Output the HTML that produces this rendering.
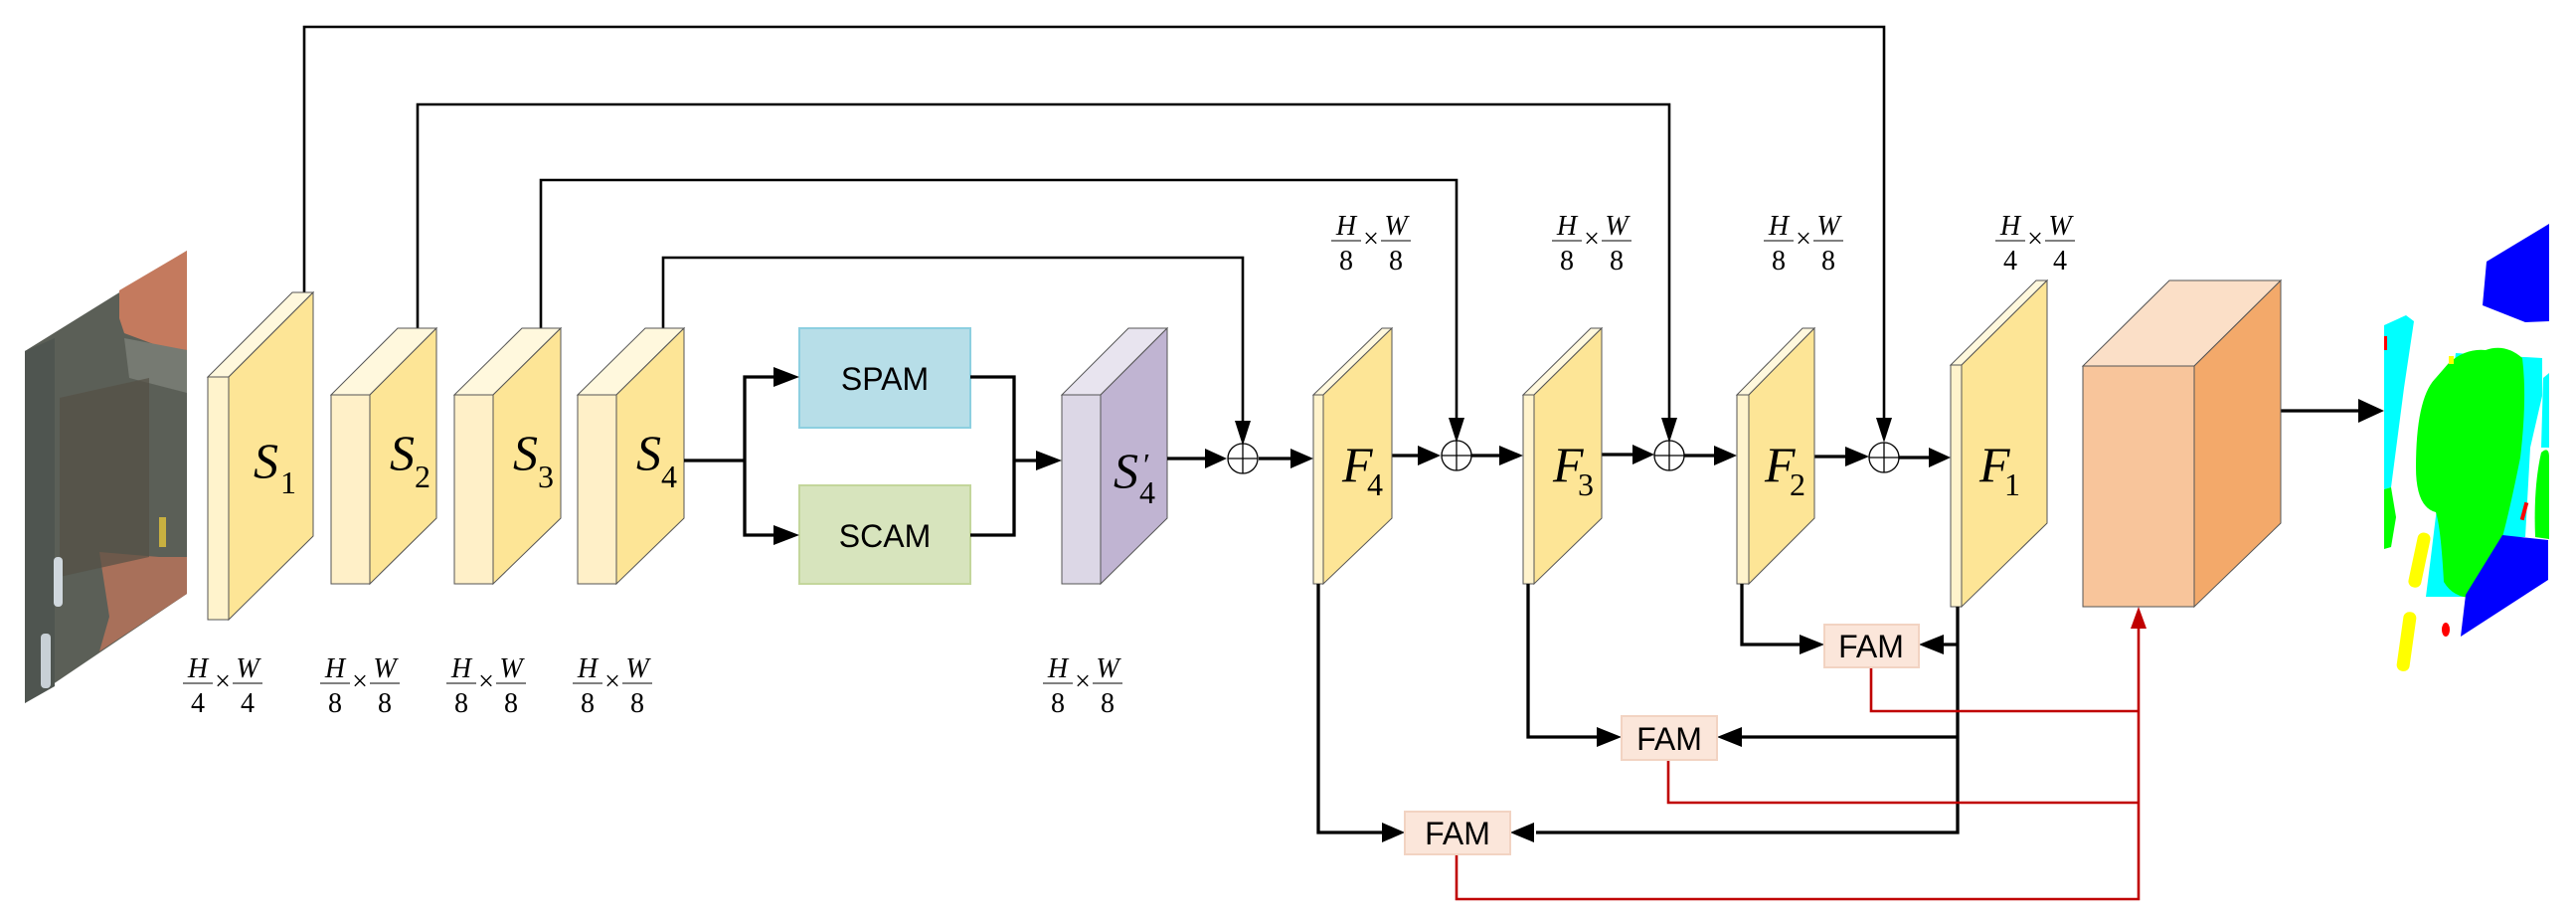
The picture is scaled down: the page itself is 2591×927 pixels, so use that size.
<!DOCTYPE html>
<html><head><meta charset="utf-8"><style>
html,body{margin:0;padding:0;background:#fff;overflow:hidden;}
svg{display:block;}
.fi{font-family:"Liberation Serif",serif;font-style:italic;font-size:28px;}
.fn{font-family:"Liberation Serif",serif;font-size:28px;}
.lb{font-family:"Liberation Sans",sans-serif;font-size:32px;}
.big{font-family:"Liberation Serif",serif;font-style:italic;font-size:50px;}
.sub{font-family:"Liberation Serif",serif;font-size:32px;}
</style></head><body>
<svg width="2591" height="927" viewBox="0 0 2591 927" xmlns="http://www.w3.org/2000/svg">
<defs>
<g id="fr">
<text x="-25" y="681" class="fi" text-anchor="middle">H</text>
<line x1="-40" y1="687" x2="-10" y2="687" stroke="#000" stroke-width="1"/>
<text x="0" y="694" class="fn" text-anchor="middle" font-size="20">×</text>
<text x="25" y="681" class="fi" text-anchor="middle">W</text>
<line x1="10" y1="687" x2="40" y2="687" stroke="#000" stroke-width="1"/>
</g>
</defs>
<!-- input image -->
<polygon points="25,353 188,252 188,597 25,707" fill="#5b5f57"/>
<polygon points="25,353 55,340 55,690 25,707" fill="#4f5550"/>
<polygon points="120,292 188,252 188,352 160,348 125,335 120,320" fill="#c47a5e"/>
<polygon points="125,340 188,352 188,395 130,380" fill="#767a72"/>
<polygon points="100,555 160,560 188,560 188,597 100,655 110,620" fill="#a8705a"/>
<polygon points="60,400 150,380 150,560 60,580" fill="#545044" opacity="0.7"/>
<rect x="54" y="560" width="9" height="50" rx="4" fill="#d0d8de"/>
<rect x="41" y="637" width="10" height="55" rx="4" fill="#c8d0d6"/>
<rect x="160" y="520" width="7" height="30" fill="#c8b040"/>

<!-- skip lines -->
<g fill="none" stroke="#000" stroke-width="2.6">
<polyline points="306,294 306,27 1895,27 1895,425"/>
<polyline points="420,330 420,105 1679,105 1679,425"/>
<polyline points="544,330 544,181 1465,181 1465,425"/>
<polyline points="667,330 667,259 1250,259 1250,428"/>
</g>
<g fill="#000">
<polygon points="1887,420 1903,420 1895,445"/>
<polygon points="1671,420 1687,420 1679,445"/>
<polygon points="1457,420 1473,420 1465,445"/>
<polygon points="1242,423 1258,423 1250,448"/>
</g>

<!-- slabs S -->
<g stroke="#555" stroke-width="1">
<polygon points="209,379 230,379 315,294 294,294" fill="#fff8dd"/>
<rect x="209" y="379" width="21" height="244" fill="#fff3cc"/>
<polygon points="230,379 315,294 315,539 230,623" fill="#fde596"/>
<polygon points="333,397 372,397 439,330 400,330" fill="#fff8dd"/>
<rect x="333" y="397" width="39" height="190" fill="#fff0c8"/>
<polygon points="372,397 439,330 439,521 372,587" fill="#fde596"/>
<polygon points="457,397 496,397 564,330 525,330" fill="#fff8dd"/>
<rect x="457" y="397" width="39" height="190" fill="#fff0c8"/>
<polygon points="496,397 564,330 564,521 496,587" fill="#fde596"/>
<polygon points="581,397 620,397 688,330 649,330" fill="#fff8dd"/>
<rect x="581" y="397" width="39" height="190" fill="#fff0c8"/>
<polygon points="620,397 688,330 688,521 620,587" fill="#fde596"/>
<polygon points="1068,397 1107,397 1174,330 1135,330" fill="#e8e4ef"/>
<rect x="1068" y="397" width="39" height="190" fill="#dcd7e6"/>
<polygon points="1107,397 1174,330 1174,521 1107,587" fill="#c0b4d2"/>
</g>
<text x="255" y="480" class="big">S</text><text x="282" y="496" class="sub">1</text>
<text x="392" y="472" class="big">S</text><text x="417" y="490" class="sub">2</text>
<text x="516" y="472" class="big">S</text><text x="541" y="490" class="sub">3</text>
<text x="640" y="472" class="big">S</text><text x="665" y="490" class="sub">4</text>
<text x="1120" y="490" class="big">S</text><text x="1150" y="478" class="sub">′</text><text x="1146" y="506" class="sub">4</text>

<!-- fractions -->
<g transform="translate(224,0)"><use href="#fr"/><text x="-25" y="716" class="fn" text-anchor="middle">4</text><text x="25" y="716" class="fn" text-anchor="middle">4</text></g>
<g transform="translate(362,0)"><use href="#fr"/><text x="-25" y="716" class="fn" text-anchor="middle">8</text><text x="25" y="716" class="fn" text-anchor="middle">8</text></g>
<g transform="translate(489,0)"><use href="#fr"/><text x="-25" y="716" class="fn" text-anchor="middle">8</text><text x="25" y="716" class="fn" text-anchor="middle">8</text></g>
<g transform="translate(616,0)"><use href="#fr"/><text x="-25" y="716" class="fn" text-anchor="middle">8</text><text x="25" y="716" class="fn" text-anchor="middle">8</text></g>
<g transform="translate(1089,0)"><use href="#fr"/><text x="-25" y="716" class="fn" text-anchor="middle">8</text><text x="25" y="716" class="fn" text-anchor="middle">8</text></g>
<g transform="translate(1379,-445)"><use href="#fr"/><text x="-25" y="716" class="fn" text-anchor="middle">8</text><text x="25" y="716" class="fn" text-anchor="middle">8</text></g>
<g transform="translate(1601,-445)"><use href="#fr"/><text x="-25" y="716" class="fn" text-anchor="middle">8</text><text x="25" y="716" class="fn" text-anchor="middle">8</text></g>
<g transform="translate(1814,-445)"><use href="#fr"/><text x="-25" y="716" class="fn" text-anchor="middle">8</text><text x="25" y="716" class="fn" text-anchor="middle">8</text></g>
<g transform="translate(2047,-445)"><use href="#fr"/><text x="-25" y="716" class="fn" text-anchor="middle">4</text><text x="25" y="716" class="fn" text-anchor="middle">4</text></g>

<!-- SPAM / SCAM -->
<rect x="804" y="330" width="172" height="100" fill="#b7dee8" stroke="#8ccfe0" stroke-width="2"/>
<rect x="804" y="488" width="172" height="99" fill="#d7e4bd" stroke="#c3d69b" stroke-width="2"/>
<text x="890" y="392" class="lb" text-anchor="middle">SPAM</text>
<text x="890" y="550" class="lb" text-anchor="middle">SCAM</text>

<g fill="none" stroke="#000" stroke-width="3.3">
<polyline points="688,463 749,463"/>
<polyline points="780,379 749,379 749,538 780,538"/>
<polyline points="976,379 1020,379 1020,538 976,538"/>
<polyline points="1020,463 1050,463"/>
<polyline points="1174,461 1218,461"/>
<polyline points="1266,461 1303,461"/>
<polyline points="1400,458 1430,458"/>
<polyline points="1480,458 1512,458"/>
<polyline points="1611,457 1645,457"/>
<polyline points="1694,458 1728,458"/>
<polyline points="1825,459 1860,459"/>
<polyline points="1910,460 1944,460"/>
<polyline points="2294,413 2378,413"/>
</g>
<g fill="#000">
<polygon points="778,369 804,379 778,389"/>
<polygon points="778,528 804,538 778,548"/>
<polygon points="1042,453 1068,463 1042,473"/>
<polygon points="1212,451 1234,461 1212,471"/>
<polygon points="1298,451 1321,461 1298,471"/>
<polygon points="1426,448 1449,458 1426,468"/>
<polygon points="1508,448 1532,458 1508,468"/>
<polygon points="1642,447 1664,457 1642,467"/>
<polygon points="1724,448 1747,458 1724,468"/>
<polygon points="1856,449 1880,459 1856,469"/>
<polygon points="1940,450 1962,460 1940,470"/>
<polygon points="2372,401 2398,413 2372,425"/>
</g>
<g fill="#fff" stroke="#000" stroke-width="1.3">
<circle cx="1250" cy="461" r="15"/><line x1="1235" y1="461" x2="1265" y2="461"/><line x1="1250" y1="446" x2="1250" y2="476"/>
<circle cx="1465" cy="458" r="15"/><line x1="1450" y1="458" x2="1480" y2="458"/><line x1="1465" y1="443" x2="1465" y2="473"/>
<circle cx="1679" cy="458" r="15"/><line x1="1664" y1="458" x2="1694" y2="458"/><line x1="1679" y1="443" x2="1679" y2="473"/>
<circle cx="1895" cy="460" r="15"/><line x1="1880" y1="460" x2="1910" y2="460"/><line x1="1895" y1="445" x2="1895" y2="475"/>
</g>

<!-- F slabs -->
<g stroke="#555" stroke-width="1">
<polygon points="1321,397 1331,397 1400,330 1390,330" fill="#fff8dd"/>
<rect x="1321" y="397" width="10" height="190" fill="#fff3cc"/>
<polygon points="1331,397 1400,330 1400,521 1331,587" fill="#fde596"/>
<polygon points="1532,397 1543,397 1611,330 1600,330" fill="#fff8dd"/>
<rect x="1532" y="397" width="11" height="190" fill="#fff3cc"/>
<polygon points="1543,397 1611,330 1611,521 1543,587" fill="#fde596"/>
<polygon points="1747,397 1759,397 1825,330 1813,330" fill="#fff8dd"/>
<rect x="1747" y="397" width="12" height="190" fill="#fff3cc"/>
<polygon points="1759,397 1825,330 1825,521 1759,587" fill="#fde596"/>
<polygon points="1962,367 1973,367 2059,282 2048,282" fill="#fff8dd"/>
<rect x="1962" y="367" width="11" height="243" fill="#fff3cc"/>
<polygon points="1973,367 2059,282 2059,526 1973,610" fill="#fde596"/>
<polygon points="2095,368 2207,368 2294,282 2182,282" fill="#fbdfc7"/>
<rect x="2095" y="368" width="112" height="242" fill="#f8c59b"/>
<polygon points="2207,368 2294,282 2294,526 2207,610" fill="#f3a96a"/>
</g>
<text x="1350" y="484" class="big">F</text><text x="1375" y="498" class="sub">4</text>
<text x="1562" y="484" class="big">F</text><text x="1587" y="498" class="sub">3</text>
<text x="1775" y="484" class="big">F</text><text x="1800" y="498" class="sub">2</text>
<text x="1991" y="484" class="big">F</text><text x="2016" y="498" class="sub">1</text>

<!-- black FAM connectors -->
<g fill="none" stroke="#000" stroke-width="3.3">
<polyline points="1969,610 1969,837 1545,837"/>
<polyline points="1969,648 1945,648"/>
<polyline points="1969,741 1745,741"/>
<polyline points="1752,587 1752,648 1815,648"/>
<polyline points="1537,587 1537,741 1611,741"/>
<polyline points="1326,587 1326,837 1395,837"/>
</g>
<g fill="#000">
<polygon points="1810,638 1835,648 1810,658"/>
<polygon points="1955,638 1930,648 1955,658"/>
<polygon points="1606,731 1631,741 1606,751"/>
<polygon points="1752,731 1727,741 1752,751"/>
<polygon points="1390,827 1413,837 1390,847"/>
<polygon points="1543,827 1519,837 1543,847"/>
</g>
<g fill="none" stroke="#c00000" stroke-width="2.6">
<polyline points="1882,671 1882,715 2151,715"/>
<polyline points="1678,764 1678,807 2151,807"/>
<polyline points="1465,859 1465,904 2151,904 2151,630"/>
</g>
<polygon points="2143,632 2159,632 2151,610" fill="#c00000"/>

<g fill="#fbe6da" stroke="#f2d3c2" stroke-width="2">
<rect x="1835" y="628" width="95" height="43"/>
<rect x="1631" y="720" width="96" height="44"/>
<rect x="1413" y="816" width="106" height="43"/>
</g>
<text x="1882" y="661" class="lb" text-anchor="middle">FAM</text>
<text x="1679" y="754" class="lb" text-anchor="middle">FAM</text>
<text x="1466" y="849" class="lb" text-anchor="middle">FAM</text>

<!-- segmentation output -->
<polygon points="2501,263 2564,225 2564,323 2540,324 2497,307" fill="#0000ff"/>
<polygon points="2398,327 2420,317 2428,323 2418,390 2405,490 2398,492" fill="#00ffff"/>
<polygon points="2398,492 2405,490 2410,520 2405,550 2398,552" fill="#00ff00"/>
<polygon points="2470,355 2557,360 2557,398 2545,450 2540,540 2517,540 2517,560 2480,600 2440,600 2445,560" fill="#00ffff"/>
<polygon points="2558,380 2564,375 2564,450 2556,450" fill="#00ffff"/>
<path d="M2463,365 Q2480,350 2500,352 Q2520,345 2537,360 Q2542,400 2535,460 Q2525,510 2517,540 Q2518,590 2497,600 Q2470,605 2458,585 Q2455,530 2450,515 Q2430,510 2430,470 Q2430,400 2450,380 Z" fill="#00ff00"/>
<path d="M2556,455 Q2564,448 2564,460 L2564,542 L2550,540 Q2548,490 2556,455 Z" fill="#00ff00"/>
<polygon points="2517,538 2563,543 2563,583 2475,640 2480,598" fill="#0000ff"/>
<rect x="2427" y="535" width="13" height="56" rx="6" fill="#ffff00" transform="rotate(12 2433 563)"/>
<rect x="2414" y="615" width="13" height="60" rx="6" fill="#ffff00" transform="rotate(8 2420 645)"/>
<ellipse cx="2460" cy="633" rx="4" ry="7" fill="#ff0000"/>
<rect x="2537" y="505" width="4" height="18" fill="#ff0000" transform="rotate(15 2539 514)"/>
<rect x="2398" y="338" width="3" height="14" fill="#ff0000"/>
<rect x="2463" y="358" width="5" height="8" fill="#ffff00"/>
</svg>
</body></html>
